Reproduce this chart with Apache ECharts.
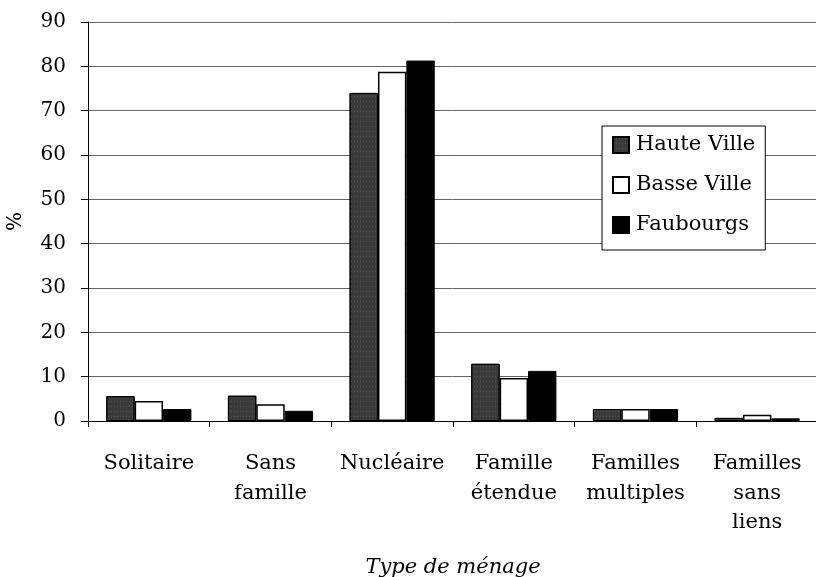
<!DOCTYPE html>
<html><head><meta charset="utf-8">
<script src="https://cdn.jsdelivr.net/npm/echarts@6/dist/echarts.min.js"></script>
<style>html,body{margin:0;padding:0;background:#fff}#c{width:816px;height:577px}</style>
</head><body><div id="c"></div>
<script>
const categories = ['Solitaire', 'Sans\nfamille', 'Nucléaire', 'Famille\nétendue', 'Familles\nmultiples', 'Familles\nsans\nliens'];
const hauteVille = [5.6, 5.7, 74.0, 12.9, 2.7, 0.7];
const basseVille = [4.5, 3.8, 78.8, 9.7, 2.7, 1.4];
const faubourgs = [2.7, 2.3, 81.3, 11.3, 2.7, 0.6];
const yTicks = [0, 10, 20, 30, 40, 50, 60, 70, 80, 90];

const font = 'DejaVu Serif';
const fs = 21;
const chart = echarts.init(document.getElementById('c'));
chart.setOption({
  animation: false,
  textStyle: { fontFamily: font, color: '#000' },
  grid: { left: 88, right: -2, top: 22, bottom: 156, containLabel: false, outerBoundsMode: 'none' },
  legend: {
    orient: 'vertical', left: 602, top: 126, itemWidth: 16, itemHeight: 16, itemGap: 18,
    icon: 'rect',
    borderColor: '#000', borderWidth: 1, padding: [8, 10, 14, 10], backgroundColor: '#fff',
    textStyle: { fontFamily: font, fontSize: fs, lineHeight: 22, color: '#000', padding: [0, 0, 0, 2] },
    data: ['Haute Ville', 'Basse Ville', 'Faubourgs']
  },
  xAxis: {
    type: 'category', data: categories,
    name: 'Type de ménage', nameLocation: 'middle', nameGap: 136,
    nameTextStyle: { fontFamily: font, fontStyle: 'italic', fontSize: fs, color: '#000' },
    axisLine: { lineStyle: { color: '#000', width: 1 } },
    axisTick: { show: true, length: 6, lineStyle: { color: '#000' } },
    axisLabel: { fontFamily: font, fontSize: fs, color: '#000', lineHeight: 29.5, margin: 28, interval: 0 }
  },
  yAxis: {
    type: 'value', min: 0, max: 90, interval: 10,
    name: '%', nameLocation: 'middle', nameGap: 62, nameRotate: 90,
    nameTextStyle: { fontFamily: font, fontSize: 20, color: '#000' },
    axisLine: { show: true, lineStyle: { color: '#000', width: 1 } },
    axisTick: { show: true, length: 7, lineStyle: { color: '#000' } },
    axisLabel: { fontFamily: font, fontSize: 20, color: '#000', margin: 22,
      formatter: v => yTicks.includes(v) ? String(v) : '' },
    splitLine: { show: true, lineStyle: { color: '#666', width: 1 } }
  },
  series: [
    { name: 'Haute Ville', type: 'bar', data: hauteVille, barGap: '0%', barCategoryGap: '30%',
      itemStyle: { color: '#3a3a3a', borderColor: '#000', borderWidth: 1,
        decal: { symbol: 'rect', symbolSize: 0.5, dashArrayX: [1, 2], dashArrayY: [3, 2], color: 'rgba(140,140,140,0.6)', rotation: 0 } } },
    { name: 'Basse Ville', type: 'bar', data: basseVille,
      itemStyle: { color: '#fff', borderColor: '#000', borderWidth: 1.5 } },
    { name: 'Faubourgs', type: 'bar', data: faubourgs,
      itemStyle: { color: '#000', borderColor: '#000', borderWidth: 1 } }
  ]
});
</script></body></html>
